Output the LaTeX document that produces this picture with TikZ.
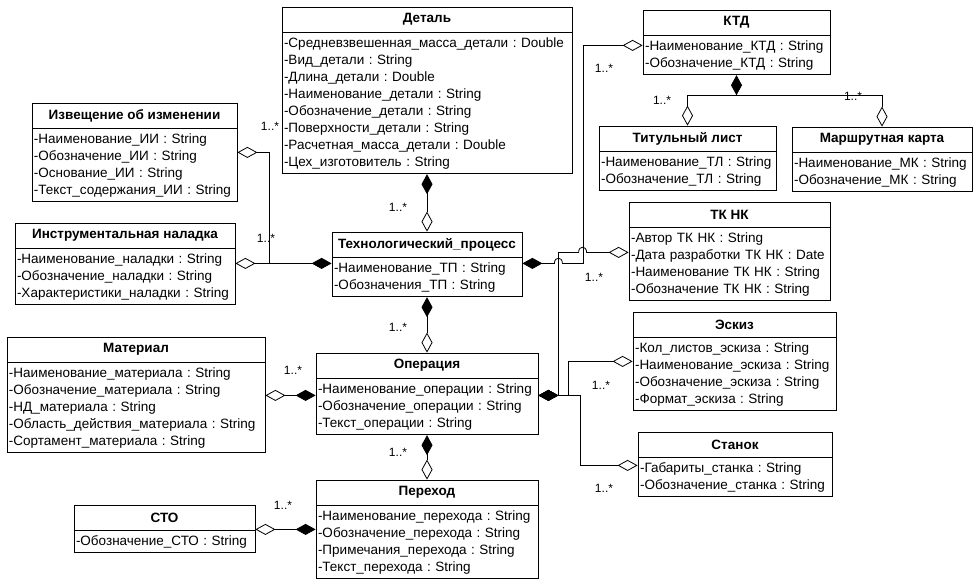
\documentclass[tikz,border=0pt]{standalone}
\usepackage{fontspec}
\setmainfont{Liberation Sans}
\usetikzlibrary{arrows.meta,positioning,calc}
\newcommand\attrfont{\fontsize{13.5}{17}\selectfont}
\frenchspacing

\begin{document}
\begin{tikzpicture}[
    x=1pt, y=-1pt,
    line width=0.8pt,
    cls/.style={draw, minimum height=25pt, inner sep=0pt, font=\bfseries\attrfont},
    attrs/.style={draw, align=left, inner xsep=2pt, inner ysep=0pt, font=\attrfont},
    comp/.style={{Diamond[open,length=20pt,width=11pt]}-{Diamond[length=20pt,width=11pt]}},
    agg/.style={{Diamond[open,length=20pt,width=11pt]}-},
    mult/.style={font=\fontsize{12}{14}\selectfont, inner sep=0pt}
]
\useasboundingbox (0,0) rectangle (978,582);

\node[cls, minimum width=290pt] (det) at (427,19.5) {Деталь};
\node[attrs, below=0pt of det, text width=286pt, minimum height=141pt] (detA) {-Средневзвешенная\_масса\_детали : Double\\-Вид\_детали : String\\-Длина\_детали : Double\\-Наименование\_детали : String\\-Обозначение\_детали : String\\-Поверхности\_детали : String\\-Расчетная\_масса\_детали : Double\\-Цех\_изготовитель : String};

\node[cls, minimum width=187pt] (ktd) at (736.5,22.5) {КТД};
\node[attrs, below=0pt of ktd, text width=183pt, minimum height=39pt] (ktdA) {-Наименование\_КТД : String\\-Обозначение\_КТД : String};

\node[cls, minimum width=205pt] (izv) at (134.5,115.5) {Извещение об изменении};
\node[attrs, below=0pt of izv, text width=201pt, minimum height=73pt] (izvA) {-Наименование\_ИИ : String\\-Обозначение\_ИИ : String\\-Основание\_ИИ : String\\-Текст\_содержания\_ИИ : String};

\node[cls, minimum width=177pt] (tl) at (687.5,138.5) {Титульный лист};
\node[attrs, below=0pt of tl, text width=173pt, minimum height=39pt] (tlA) {-Наименование\_ТЛ : String\\-Обозначение\_ТЛ : String};

\node[cls, minimum width=180pt] (mk) at (882,139.5) {Маршрутная карта};
\node[attrs, below=0pt of mk, text width=176pt, minimum height=39pt] (mkA) {-Наименование\_МК : String\\-Обозначение\_МК : String};

\node[cls, minimum width=220pt] (instr) at (125,235.5) {Инструментальная наладка};
\node[attrs, below=0pt of instr, text width=216pt, minimum height=56pt] (instrA) {-Наименование\_наладки : String\\-Обозначение\_наладки : String\\-Характеристики\_наладки : String};

\node[cls, minimum width=190pt] (tp) at (427,244.5) {Технологический\_процесс};
\node[attrs, below=0pt of tp, text width=186pt, minimum height=39pt] (tpA) {-Наименование\_ТП : String\\-Обозначения\_ТП : String};

\node[cls, minimum width=201pt] (tknk) at (729.5,214.5) {ТК НК};
\node[attrs, below=0pt of tknk, text width=197pt, minimum height=73pt] (tknkA) {-Автор ТК НК : String\\-Дата разработки ТК НК : Date\\-Наименование ТК НК : String\\-Обозначение ТК НК : String};

\node[cls, minimum width=203pt] (esk) at (734.5,324.5) {Эскиз};
\node[attrs, below=0pt of esk, text width=199pt, minimum height=73pt] (eskA) {-Кол\_листов\_эскиза : String\\-Наименование\_эскиза : String\\-Обозначение\_эскиза : String\\-Формат\_эскиза : String};

\node[cls, minimum width=258pt] (mat) at (136,349.5) {Материал};
\node[attrs, below=0pt of mat, text width=254pt, minimum height=90pt] (matA) {-Наименование\_материала : String\\-Обозначение\_материала : String\\-НД\_материала : String\\-Область\_действия\_материала : String\\-Сортамент\_материала : String};

\node[cls, minimum width=222pt] (op) at (427,365.5) {Операция};
\node[attrs, below=0pt of op, text width=218pt, minimum height=56pt] (opA) {-Наименование\_операции : String\\-Обозначение\_операции : String\\-Текст\_операции : String};

\node[cls, minimum width=194pt] (stan) at (735,444.5) {Станок};
\node[attrs, below=0pt of stan, text width=190pt, minimum height=39pt] (stanA) {-Габариты\_станка : String\\-Обозначение\_станка : String};

\node[cls, minimum width=222pt] (per) at (427,492.5) {Переход};
\node[attrs, below=0pt of per, text width=218pt, minimum height=73pt] (perA) {-Наименование\_перехода : String\\-Обозначение\_перехода : String\\-Примечания\_перехода : String\\-Текст\_перехода : String};

\node[cls, minimum width=181pt] (sto) at (164.5,517.5) {СТО};
\node[attrs, below=0pt of sto, text width=177pt, minimum height=22pt] (stoA) {-Обозначение\_СТО : String};

\coordinate (tpL) at ([yshift=-6pt]tpA.north west);
\coordinate (tpR) at ([yshift=-6pt]tpA.north east);
\coordinate (opL) at ([yshift=-17pt]opA.north west);
\coordinate (opR) at ([yshift=-17pt]opA.north east);
\coordinate (opJ) at ($(opR)+(20,0)$);
\coordinate (perL) at ([yshift=-24pt]perA.north west);
\coordinate (ktdL) at ([yshift=-10pt]ktdA.north west);
\coordinate (kj) at ([yshift=-20pt]ktdA.south);
\coordinate (tkL) at ([yshift=-25pt]tknkA.north west);
\coordinate (eskL) at ([yshift=-24pt]eskA.north west);
\coordinate (stL) at ([yshift=-8pt]stanA.north west);

\draw[comp] (tp.north) -- (detA.south);
\draw[comp] (op.north) -- (tpA.south);
\draw[comp] (per.north) -- (opA.south);
\draw[comp] (instrA.east |- tpL) -- (tpL);
\draw[agg] ([yshift=-24pt]izvA.north east) -| ($(tpL)+(-62,0)$);
\draw[comp] (matA.east |- opL) -- (opL);
\draw[comp] (stoA.east |- perL) -- (perL);
\draw[comp] (ktdL) -| ($(tpR)+(61,0)$) -- ($(tpR)+(40,0)$) .. controls +(0,-7) and +(0,-7) .. ($(tpR)+(32,0)$) -- (tpR);
\draw[comp] (tkL) -- ($(tkL)+(-42,0)$) .. controls +(0,-7) and +(0,-7) .. ($(tkL)+(-50,0)$) -| (opJ) -- (opR);
\draw[comp] (eskL) -| ($(opJ)+(10,0)$) -- (opR);
\draw[comp] (stL) -| ($(opJ)+(22,0)$) -- (opR);
\draw[comp] (tl.north) |- (kj) -- (ktdA.south);
\draw[agg] (mk.north) |- (kj);

\node[mult] (m1) at (398,207) {1..*};
\node[mult] (m2) at (398,327) {1..*};
\node[mult] (m3) at (398,452) {1..*};
\node[mult] (m4) at (270,126) {1..*};
\node[mult] (m5) at (266,238) {1..*};
\node[mult] (m6) at (293,370) {1..*};
\node[mult] (m7) at (283,505) {1..*};
\node[mult] (m8) at (604,68) {1..*};
\node[mult] (m9) at (594,277) {1..*};
\node[mult] (m10) at (601,385) {1..*};
\node[mult] (m11) at (604,488) {1..*};
\node[mult] (m12) at (662,100) {1..*};
\node[mult] (m13) at (853,96) {1..*};

\end{tikzpicture}
\end{document}
